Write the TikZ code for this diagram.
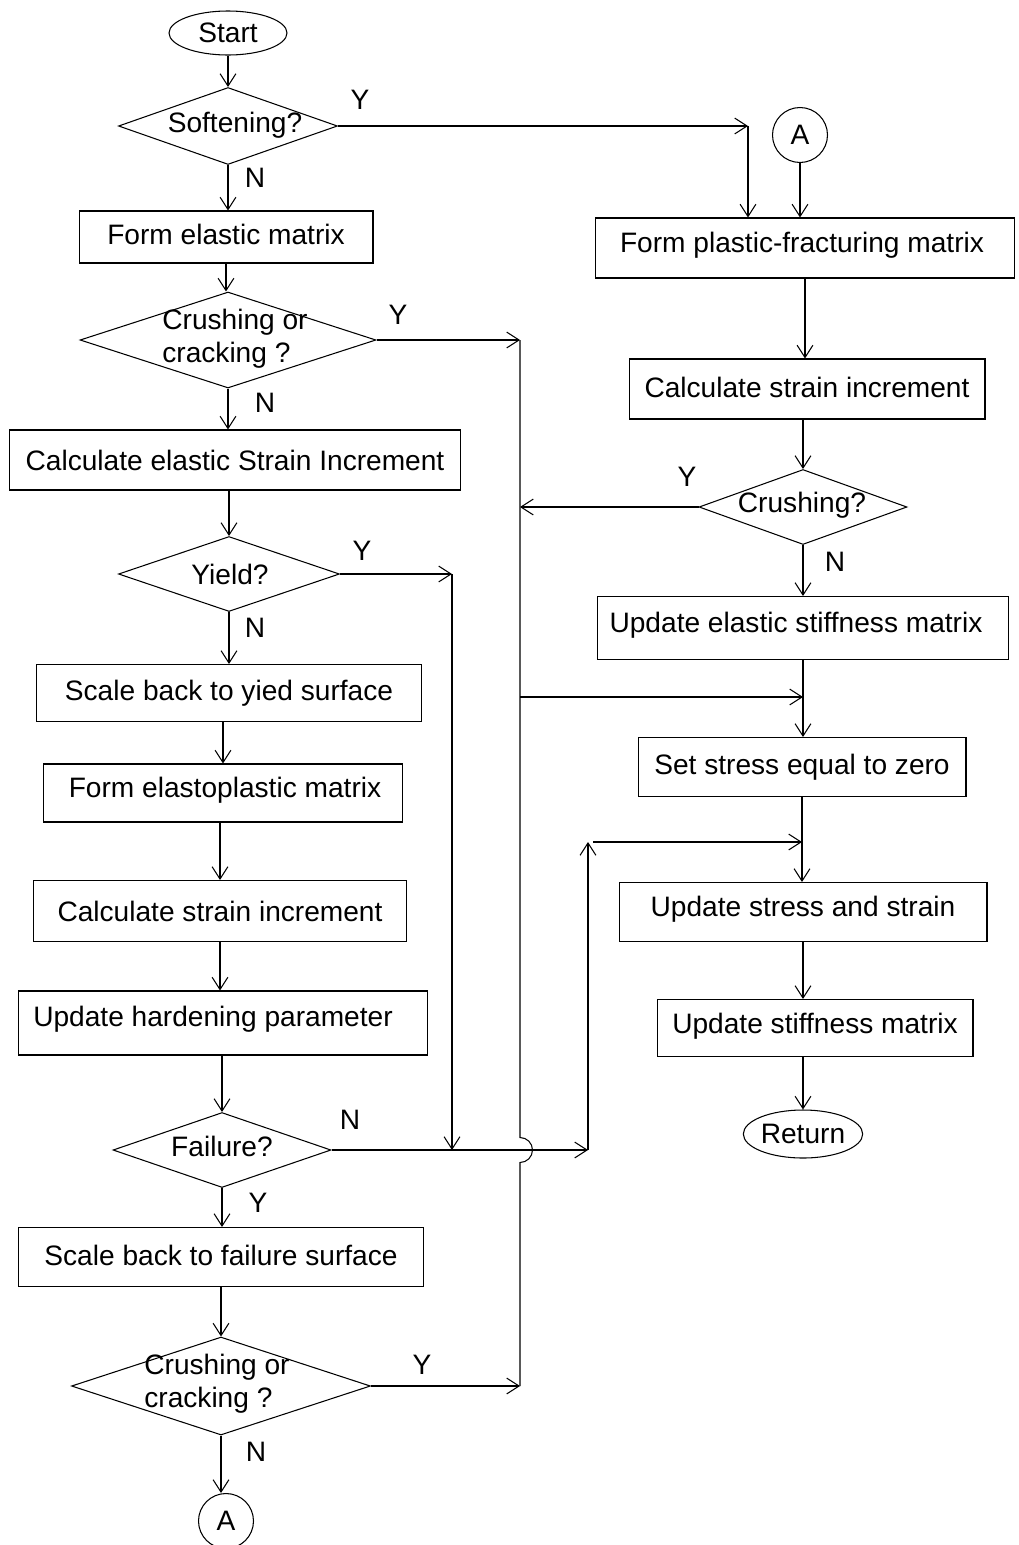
\documentclass[tikz,border=0pt]{standalone}
\usepackage{fontspec}
\setmainfont{Liberation Sans}
\usetikzlibrary{shapes.geometric,arrows.meta,calc}

\begin{document}
\begin{tikzpicture}[x=0.02cm,y=-0.02cm,line width=0.6pt,font=\fontsize{16}{19}\selectfont,
  >={Straight Barb[length=7pt,width=9pt]},
  box/.style 2 args={draw,rectangle,minimum width=#1cm,minimum height=#2cm,inner sep=0pt},
  dec/.style 2 args={draw,diamond,minimum width=#1cm,minimum height=#2cm,inner sep=0pt},
  term/.style 2 args={draw,ellipse,minimum width=#1cm,minimum height=#2cm,inner sep=0pt},
  conn/.style={draw,circle,minimum size=1.1cm,inner sep=0pt}]
\useasboundingbox (0,0) rectangle (1018,1545);
\node[term={2.36}{0.88}] (start) at (228,33) {Start};
\node[dec={4.38}{1.54}] (soft) at (228,126) {}; \node (softt) at (235,125) {Softening?};
\node[box={5.88}{1.04}] (fem) at (226,237) {}; \node (femt) at (226,234) {Form elastic matrix};
\node[dec={5.92}{1.92}] (cc1) at (228,340) {}; \node[align=left] (cc1t) at (235,339) {Crushing or\\cracking ?};
\node[box={9.02}{1.2}] (cesi) at (235,460) {Calculate elastic Strain Increment};
\node[dec={4.42}{1.5}] (yield) at (229,574) {}; \node (yieldt) at (230,574) {Yield?};
\node[box={7.72}{1.14}] (sby) at (229,693) {Scale back to yied surface};
\node[box={7.2}{1.16}] (fep) at (223,793) {}; \node (fept) at (225,790) {Form elastoplastic matrix};
\node[box={7.48}{1.22}] (csi1) at (220,911) {Calculate strain increment};
\node[box={8.2}{1.28}] (uhp) at (223,1023) {}; \node (uhpt) at (213,1019) {Update hardening parameter};
\node[dec={4.36}{1.5}] (fail) at (222,1150) {}; \node (failt) at (222,1146) {Failure?};
\node[box={8.12}{1.18}] (sbf) at (221,1257) {}; \node (sbft) at (221,1255) {Scale back to failure surface};
\node[dec={5.98}{1.96}] (cc2) at (221,1386) {}; \node[align=left] (cc2t) at (217,1384) {Crushing or\\cracking ?};
\node[conn] (A2) at (226,1521) {A};
\node[conn] (A1) at (800,135) {A};
\node[box={8.4}{1.2}] (fpm) at (805,248) {}; \node (fpmt) at (802,245) {Form plastic-fracturing matrix};
\node[box={7.12}{1.2}] (csi2) at (807,389) {}; \node (csi2t) at (807,387) {Calculate strain increment};
\node[dec={4.16}{1.5}] (crush) at (803,507) {}; \node (crusht) at (802,505) {Crushing?};
\node[box={8.24}{1.26}] (uesm) at (803,628) {}; \node (uesmt) at (796,625) {Update elastic stiffness matrix};
\node[box={6.56}{1.18}] (sse) at (802,767) {}; \node (sset) at (802,767) {Set stress equal to zero};
\node[box={7.36}{1.18}] (uss) at (803,912) {}; \node (usst) at (803,909) {Update stress and strain};
\node[box={6.32}{1.14}] (usm) at (815,1028) {}; \node (usmt) at (815,1026) {Update stiffness matrix};
\node[term={2.22}{0.96}] (ret) at (803,1134) {Return};
\node (y1) at (360,100) {Y}; \node (n1) at (255,178) {N};
\node (y2) at (398,315) {Y}; \node (n2) at (265,403) {N};
\node (y3) at (362,551) {Y}; \node (n3) at (255,628) {N};
\node (n4) at (350,1120) {N}; \node (y4) at (258,1203) {Y};
\node (y5) at (422,1365) {Y}; \node (n5) at (256,1452) {N};
\node (y6) at (687,477) {Y}; \node (n6) at (835,562) {N};
\coordinate (k1) at (748,126); \coordinate (k2) at (452,574); \coordinate (k3) at (588,1150); \coordinate (k4) at (588,842);
\coordinate (t1) at (520,340); \coordinate (t2) at (520,697); \coordinate (t3) at (520,1386);
\draw[->] (start.south) -- (start.south |- soft.north); \draw[->] (soft.south) -- (soft.south |- fem.north);
\draw[->] (fem.south) -- (fem.south |- cc1.north); \draw[->] (cc1.south) -- (cc1.south |- cesi.north);
\draw[->] (cesi.south -| yield) -- (yield.north); \draw[->] (yield.south) -- (yield.south |- sby.north);
\draw[->] (fep.north |- sby.south) -- (fep.north); \draw[->] (fep.south -| csi1) -- (csi1.north);
\draw[->] (csi1.south) -- (csi1.south |- uhp.north); \draw[->] (uhp.south -| fail) -- (fail.north);
\draw[->] (fail.south) -- (fail.south |- sbf.north); \draw[->] (sbf.south) -- (sbf.south |- cc2.north);
\draw[->] (cc2.south) -- (cc2.south |- A2.north);
\draw[->] (soft.east) -- (k1); \draw[->] (k1) -- (k1 |- fpm.north); \draw[->] (A1) -- (A1 |- fpm.north);
\draw[->] (fpm.south) -- (fpm.south |- csi2.north); \draw[->] (csi2.south -| crush) -- (crush.north);
\draw[->] (crush.south) -- (crush.south |- uesm.north); \draw[->] (uesm.south) -- (uesm.south |- sse.north);
\draw[->] (sse.south) -- (sse.south |- uss.north); \draw[->] (uss.south) -- (uss.south |- usm.north);
\draw[->] (ret.north |- usm.south) -- (ret.north);
\draw[->] (cc1.east) -- (t1); \draw[->] (cc2.east) -- (t3); \draw[->] (crush.west) -- (crush.west -| t1);
\draw (t1) -- ($(t1 |- fail.east)+(0,-12.5)$) arc[start angle=90,end angle=-90,radius=0.25cm] -- (t3);
\draw[->] (t2) -- (t2 -| uesm);
\draw[->] (yield.east) -- (k2); \draw[->] (k2) -- (k2 |- fail.east);
\draw[->] (fail.east) -- (k3); \draw[->] (k3) -- (k4); \draw[->] ($(k4)+(5,0)$) -- (k4 -| sse);
\end{tikzpicture}
\end{document}
